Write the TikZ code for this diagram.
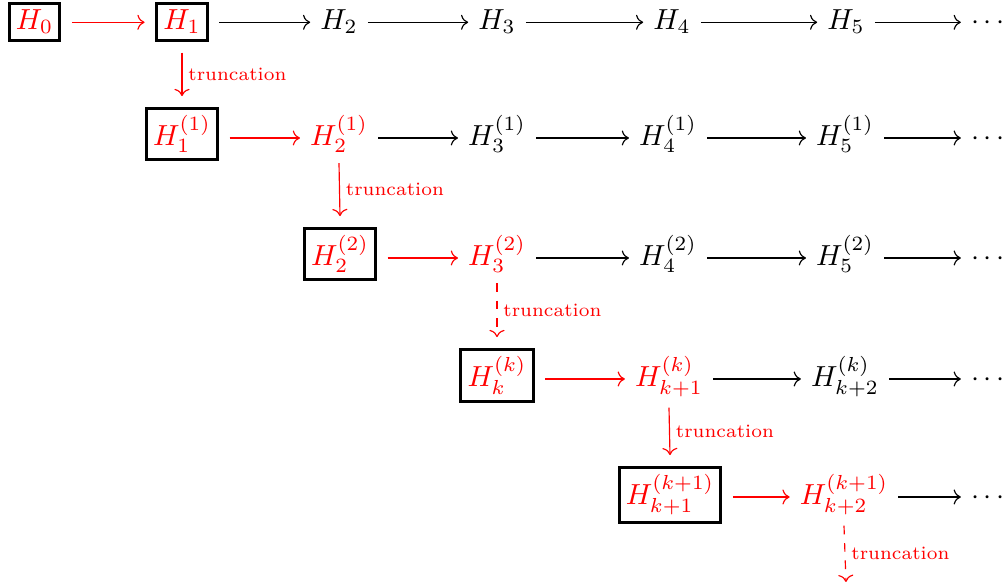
\documentclass[tikz,border=0pt]{standalone}
\usetikzlibrary{arrows.meta}
\begin{document}
\begin{tikzpicture}[x=0.3448pt,y=-0.3448pt,
  cell/.style={anchor=base, yshift=-2.5pt, inner sep=3.33pt},
  boxed/.style={cell, draw=black, line width=1pt, inner sep=2.3pt, outer sep=4.2pt},
  hot/.style={text=red},
  harrow/.style={->, line width=0.4pt},
  redarrow/.style={harrow, draw=red},
  trunc/.style={->, draw=red, line width=0.4pt},
  tlabel/.style={right, text=red, font=\fontsize{6.5}{8}\selectfont, inner sep=2pt}]
\useasboundingbox (0,0) rectangle (1006,587);
% row 0
\node[boxed,hot] (a0) at (34.5,22.3) {$H_0$};
\node[boxed,hot] (a1) at (182,22.3) {$H_1$};
\node[cell] (a2) at (339,22.3) {$H_2$};
\node[cell] (a3) at (497,22.3) {$H_3$};
\node[cell] (a4) at (672,22.3) {$H_4$};
\node[cell] (a5) at (846,22.3) {$H_5$};
\node[cell] (a6) at (988,22.3) {$\cdots$};
% row 1
\node[boxed,hot] (b1) at (182,138) {$H_1^{(1)}$};
\node[cell,hot] (b2) at (339,138) {$H_2^{(1)}$};
\node[cell] (b3) at (497,138) {$H_3^{(1)}$};
\node[cell] (b4) at (668,138) {$H_4^{(1)}$};
\node[cell] (b5) at (845,138) {$H_5^{(1)}$};
\node[cell] (b6) at (988,138) {$\cdots$};
% row 2
\node[boxed,hot] (c2) at (340,258) {$H_2^{(2)}$};
\node[cell,hot] (c3) at (497,258) {$H_3^{(2)}$};
\node[cell] (c4) at (668,258) {$H_4^{(2)}$};
\node[cell] (c5) at (845,258) {$H_5^{(2)}$};
\node[cell] (c6) at (988,258) {$\cdots$};
% row 3
\node[boxed,hot] (d3) at (497,379) {$H_k^{(k)}$};
\node[cell,hot] (d4) at (669,379) {$H_{k+1}^{(k)}$};
\node[cell] (d5) at (845,379) {$H_{k+2}^{(k)}$};
\node[cell] (d6) at (988,379) {$\cdots$};
% row 4
\node[boxed,hot] (e4) at (670,497) {$H_{k+1}^{(k+1)}$};
\node[cell,hot] (e5) at (844,497) {$H_{k+2}^{(k+1)}$};
\node[cell] (e6) at (988,497) {$\cdots$};
\coordinate (f5) at (846,582);
% horizontal arrows
\draw[redarrow] ([yshift=2.5pt]a0.base east) -- ([yshift=2.5pt]a1.base west);
\draw[harrow] ([yshift=2.5pt]a1.base east) -- ([yshift=2.5pt]a2.base west);
\draw[harrow] ([yshift=2.5pt]a2.base east) -- ([yshift=2.5pt]a3.base west);
\draw[harrow] ([yshift=2.5pt]a3.base east) -- ([yshift=2.5pt]a4.base west);
\draw[harrow] ([yshift=2.5pt]a4.base east) -- ([yshift=2.5pt]a5.base west);
\draw[harrow] ([yshift=2.5pt]a5.base east) -- ([yshift=2.5pt]a6.base west);
\draw[redarrow] ([yshift=2.5pt]b1.base east) -- ([yshift=2.5pt]b2.base west);
\draw[harrow] ([yshift=2.5pt]b2.base east) -- ([yshift=2.5pt]b3.base west);
\draw[harrow] ([yshift=2.5pt]b3.base east) -- ([yshift=2.5pt]b4.base west);
\draw[harrow] ([yshift=2.5pt]b4.base east) -- ([yshift=2.5pt]b5.base west);
\draw[harrow] ([yshift=2.5pt]b5.base east) -- ([yshift=2.5pt]b6.base west);
\draw[redarrow] ([yshift=2.5pt]c2.base east) -- ([yshift=2.5pt]c3.base west);
\draw[harrow] ([yshift=2.5pt]c3.base east) -- ([yshift=2.5pt]c4.base west);
\draw[harrow] ([yshift=2.5pt]c4.base east) -- ([yshift=2.5pt]c5.base west);
\draw[harrow] ([yshift=2.5pt]c5.base east) -- ([yshift=2.5pt]c6.base west);
\draw[redarrow] ([yshift=2.5pt]d3.base east) -- ([yshift=2.5pt]d4.base west);
\draw[harrow] ([yshift=2.5pt]d4.base east) -- ([yshift=2.5pt]d5.base west);
\draw[harrow] ([yshift=2.5pt]d5.base east) -- ([yshift=2.5pt]d6.base west);
\draw[redarrow] ([yshift=2.5pt]e4.base east) -- ([yshift=2.5pt]e5.base west);
\draw[harrow] ([yshift=2.5pt]e5.base east) -- ([yshift=2.5pt]e6.base west);
% truncation arrows
\draw[trunc] (a1.south) -- node[tlabel] {truncation} (b1.north);
\draw[trunc] (b2.south) -- node[tlabel] {truncation} (c2.north);
\draw[trunc,dashed] (c3.south) -- node[tlabel] {truncation} (d3.north);
\draw[trunc] (d4.south) -- node[tlabel] {truncation} (e4.north);
\draw[trunc,dashed] (e5.south) -- node[tlabel] {truncation} (f5);
\end{tikzpicture}
\end{document}
